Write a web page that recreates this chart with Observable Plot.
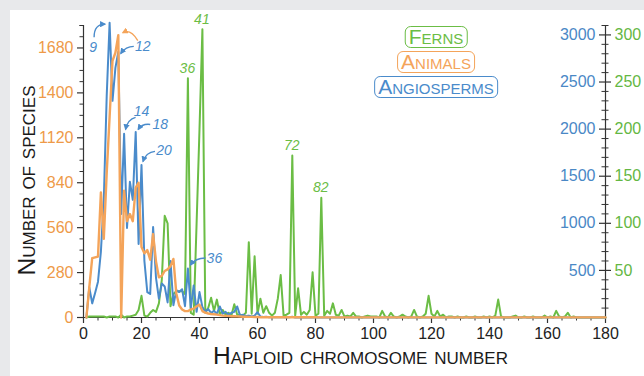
<!DOCTYPE html>
<html>
<head>
<meta charset="utf-8">
<script src="https://cdn.jsdelivr.net/npm/d3@7"></script>
<script src="https://cdn.jsdelivr.net/npm/@observablehq/plot@0.6"></script>
<style>
  html, body { margin: 0; padding: 0; background: #e8e9eb; width: 644px; height: 376px; overflow: hidden; }
  body { font-family: "Liberation Sans", Arial, sans-serif; }
  #wrap { position: relative; width: 644px; height: 376px; }
  #panel { position: absolute; left: 10px; top: 10px; right: 0; bottom: 0; background: #ffffff; }
  #chart { position: absolute; left: 0; top: 0; }
  .key { position: absolute; transform: translateX(-50%); font-size: 21px; font-variant: small-caps;
         line-height: 17px; padding: 1px 3px 2px 3px; border: 1.5px solid; border-radius: 6px; white-space: nowrap; background: #fff; }
</style>
</head>
<body>
<div id="wrap">
  <div id="panel"></div>
  <div id="chart"></div>
</div>
<script>
// ---- data ----
const haploidNumbers = d3.range(1, 181);

const angiosperms = [
  0, 320, 150, 260, 380, 700, 1250, 2350, 3130, 2300,
  2650, 2820, 1100, 1950, 950, 1440, 1250, 1970, 780, 1620,
  600, 270, 250, 960, 420, 200, 360, 330, 160, 600,
  130, 290, 270, 300, 120, 520, 100, 340, 60, 270,
  110, 60, 90, 50, 70, 40, 117, 40, 60, 30,
  50, 60, 117, 20, 30, 15, 20, 10, 20, 56,
  10, 5, 8, 3, 5, 2, 4, 2, 3, 1,
  2, 8, 1, 2, 1, 1, 2, 1, 1, 3,
  1, 0, 1, 0, 1, 0, 0, 1, 0, 0,
  0, 0, 1, 0, 0, 0, 0, 0, 0, 1,
  0, 0, 0, 0, 0, 0, 0, 0, 0, 0,
  0, 0, 0, 0, 0, 0, 0, 0, 0, 0,
  0, 0, 0, 0, 0, 0, 0, 0, 0, 0,
  0, 0, 0, 0, 0, 0, 0, 0, 0, 0,
  0, 0, 0, 0, 0, 0, 0, 0, 0, 0,
  0, 0, 0, 0, 0, 0, 0, 0, 0, 0,
  0, 0, 0, 0, 0, 0, 0, 0, 0, 0,
  0, 0, 0, 0, 0, 0, 0, 0, 0, 0
];

const animals = [
  0, 190, 370, 375, 380, 780, 490, 900, 1250, 1600,
  1650, 1760, 0, 790, 600, 645, 600, 810, 840, 440,
  400, 420, 360, 520, 350, 250, 260, 290, 300, 320,
  365, 150, 75, 50, 40, 40, 50, 55, 70, 80,
  40, 30, 25, 22, 20, 18, 15, 12, 10, 10,
  8, 8, 7, 6, 5, 5, 4, 4, 3, 3,
  2, 2, 2, 2, 2, 2, 2, 2, 2, 2,
  2, 2, 2, 2, 2, 2, 2, 2, 2, 2,
  1, 1, 1, 1, 1, 1, 1, 1, 1, 1,
  1, 1, 1, 1, 1, 1, 1, 1, 1, 1,
  1, 1, 1, 1, 1, 1, 1, 1, 1, 1,
  1, 1, 1, 1, 1, 1, 1, 1, 1, 1,
  1, 1, 1, 1, 1, 1, 1, 1, 1, 1,
  1, 1, 1, 1, 1, 1, 1, 1, 1, 1,
  1, 1, 1, 1, 1, 1, 1, 1, 1, 1,
  1, 1, 1, 1, 1, 1, 1, 1, 1, 1,
  1, 1, 1, 1, 1, 1, 1, 1, 1, 1,
  1, 1, 1, 1, 1, 1, 1, 1, 1, 1
];

const ferns = [
  0, 1, 1, 1, 1, 1, 1, 0, 1, 1,
  1, 0, 3, 0, 1, 1, 2, 3, 8, 23,
  2, 1, 5, 8, 6, 15, 40, 108, 100, 12,
  25, 28, 28, 28, 25, 254, 5, 3, 100, 200,
  306, 5, 10, 21, 7, 19, 3, 8, 3, 5,
  2, 14, 3, 3, 2, 5, 80, 4, 65, 4,
  20, 5, 12, 5, 2, 5, 20, 45, 2, 3,
  5, 172, 2, 31, 3, 6, 3, 8, 48, 2,
  4, 127, 2, 7, 4, 15, 3, 2, 8, 1,
  2, 1, 5, 1, 1, 0, 1, 2, 1, 1,
  1, 0, 7, 1, 0, 5, 1, 0, 1, 3,
  1, 0, 1, 8, 1, 0, 1, 4, 23, 4,
  1, 7, 1, 3, 0, 1, 1, 0, 1, 0,
  0, 1, 0, 0, 1, 0, 0, 1, 0, 1,
  0, 2, 19, 1, 0, 0, 0, 1, 2, 0,
  0, 1, 0, 0, 1, 0, 0, 0, 2, 0,
  1, 0, 7, 1, 0, 1, 5, 0, 1, 0,
  0, 0, 0, 0, 0, 0, 0, 0, 0, 0
];

const seriesNames = ["Ferns", "Animals", "Angiosperms"];
const xTickLabels = [0, 20, 40, 60, 80, 100, 120, 140, 160, 180];
const animalTicks = [0, 280, 560, 840, 1120, 1400, 1680];
const angiospermTicks = [500, 1000, 1500, 2000, 2500, 3000];
const fernTicks = [50, 100, 150, 200, 250, 300];

// annotated peaks
const angiospermNotes = [9, 12, 14, 18, 20, 36];
const animalNotes = [12];
const fernNotes = [36, 41, 72, 82];

// ---- styling / layout ----
const C = { ferns: "#6bbd45", animals: "#f4a45a", angio: "#4a8bcb", axis: "#333333",
            animalsText: "#ee9a48", angioText: "#4a88c6", fernsText: "#64b743" };
const leftMax = 1820;     // animals axis top
const angioMax = 3100;    // angiosperm axis top
const kAngio = leftMax / angioMax;
const kFern = kAngio * 10;

const rows = (arr, k) => haploidNumbers.map((n, i) => ({ n, v: arr[i], y: arr[i] * k }));
const fernRows = rows(ferns, kFern);
const angioRows = rows(angiosperms, kAngio);
const animalRows = rows(animals, 1);

const xMinor = d3.range(0, 181, 5).filter(d => d % 20 !== 0);
const leftMinor = d3.range(0, leftMax + 1, 70).filter(d => d % 280 !== 0);
const rightMinor = d3.range(0, angioMax + 1, 100).filter(d => d % 500 !== 0);

// offsets for annotation labels / arrows (pixels, relative to peak)
const angioNoteLayout = {
  9:  { lx: -16, ly: 25, s: [-15, 15], c: [-15, 2], e: [-4, 2] },
  12: { lx: 25, ly: -5, s: [16, -5], c: [8, -5], e: [3, 2] },
  14: { lx: 18, ly: -22, s: [12, -16], c: [4, -14], e: [2, -4] },
  18: { lx: 25, ly: -7, s: [15, -7], c: [7, -8], e: [3, -2] },
  20: { lx: 23, ly: -14, s: [14, -13], c: [5, -12], e: [2, -3] },
  36: { lx: 27, ly: -10, s: [18, -10], c: [8, -10], e: [3, -3] }
};
const animalNoteLayout = { 12: { s: [20, 6], c: [13, -6], e: [5, -2] } };

function annotations(index, scales) {
  const x = scales.x, y = scales.y;
  const g = d3.create("svg:g");
  const defs = g.append("defs");
  [["ahBlue", C.angio], ["ahOrange", C.animals]].forEach(([id, col]) => {
    defs.append("marker").attr("id", id).attr("viewBox", "0 0 10 10")
      .attr("refX", 8).attr("refY", 5).attr("markerWidth", 4.5).attr("markerHeight", 4.5)
      .attr("orient", "auto")
      .append("path").attr("d", "M0,0L10,5L0,10z").attr("fill", col);
  });
  const drawArrow = (px, py, L, col, mid) => {
    g.append("path")
      .attr("d", `M${px + L.s[0]},${py + L.s[1]}Q${px + L.c[0]},${py + L.c[1]} ${px + L.e[0]},${py + L.e[1]}`)
      .attr("fill", "none").attr("stroke", col).attr("stroke-width", 1.4)
      .attr("marker-end", `url(#${mid})`);
  };
  angiospermNotes.forEach(n => {
    const L = angioNoteLayout[n];
    const px = x(n), py = y(angiosperms[n - 1] * kAngio);
    drawArrow(px, py, L, C.angio, "ahBlue");
    g.append("text").attr("x", px + L.lx).attr("y", py + L.ly).attr("dy", "0.35em")
      .attr("text-anchor", "middle").attr("font-style", "italic").attr("font-size", 14)
      .attr("fill", C.angio).text(String(n));
  });
  animalNotes.forEach(n => {
    const L = animalNoteLayout[n];
    const px = x(n), py = y(animals[n - 1]);
    drawArrow(px, py, L, C.animals, "ahOrange");
  });
  fernNotes.forEach(n => {
    const px = x(n), py = y(ferns[n - 1] * kFern);
    g.append("text").attr("x", px).attr("y", py - 10).attr("dy", "0.35em")
      .attr("text-anchor", "middle").attr("font-style", "italic").attr("font-size", 14)
      .attr("fill", C.ferns).text(String(n));
  });
  return g.node();
}

const font = "Liberation Sans, Arial, sans-serif";

const chart = Plot.plot({
  width: 644,
  height: 376,
  marginLeft: 83,
  marginRight: 39,
  marginTop: 25,
  marginBottom: 59,
  style: { background: "transparent", fontFamily: font, overflow: "visible" },
  x: { domain: [0, 180], axis: null },
  y: { domain: [0, leftMax], axis: null },
  marks: [
    // axis lines
    Plot.ruleX([0, 180], { y1: 0, y2: leftMax, stroke: C.axis, strokeWidth: 1.2 }),
    Plot.ruleY([0], { stroke: C.axis, strokeWidth: 1.2 }),
    // x ticks
    Plot.tickX(xTickLabels, { x: d => d, insetTop: 292, insetBottom: -6, stroke: C.axis, strokeWidth: 1.2 }),
    Plot.tickX(xMinor, { x: d => d, insetTop: 292, insetBottom: -3.5, stroke: C.axis, strokeWidth: 1 }),
    // left ticks
    Plot.tickY(animalTicks, { y: d => d, insetLeft: -6, insetRight: 522, stroke: C.axis, strokeWidth: 1.2 }),
    Plot.tickY(leftMinor, { y: d => d, insetLeft: -3.5, insetRight: 522, stroke: C.axis, strokeWidth: 1 }),
    Plot.tickY([leftMax], { y: d => d, insetLeft: -3.5, insetRight: 522, stroke: C.axis, strokeWidth: 1 }),
    // right ticks (crossing)
    Plot.tickY(angiospermTicks, { y: d => d * kAngio, insetLeft: 516, insetRight: -6, stroke: C.axis, strokeWidth: 1.2 }),
    Plot.tickY(rightMinor, { y: d => d * kAngio, insetLeft: 518.5, insetRight: -3.5, stroke: C.axis, strokeWidth: 1 }),
    // tick labels
    Plot.text(xTickLabels, { x: d => d, frameAnchor: "bottom", dy: 21, text: d => String(d), fill: "#222", fontSize: 16 }),
    Plot.text(animalTicks, { y: d => d, frameAnchor: "left", dx: -10, textAnchor: "end", text: d => String(d), fill: C.animalsText, fontSize: 16 }),
    Plot.text(angiospermTicks, { y: d => d * kAngio, frameAnchor: "right", dx: -10, textAnchor: "end", text: d => String(d), fill: C.angioText, fontSize: 16 }),
    Plot.text(fernTicks, { y: d => d * kAngio * 10, frameAnchor: "right", dx: 9, textAnchor: "start", text: d => String(d), fill: C.fernsText, fontSize: 16 }),
    // axis titles
    Plot.text(["Number of species"], { frameAnchor: "left", dx: -56, dy: 9, rotate: -90, textAnchor: "middle", text: d => d, fill: "#1a1a1a", fontSize: 24.5, fontVariant: "small-caps" }),
    Plot.text(["Haploid chromosome number"], { frameAnchor: "bottom", dx: 16, dy: 46, textAnchor: "middle", text: d => d, fill: "#1a1a1a", fontSize: 24.5, fontVariant: "small-caps" }),
    // series
    Plot.line(fernRows, { x: "n", y: "y", stroke: C.ferns, strokeWidth: 2, strokeLinejoin: "round" }),
    Plot.line(angioRows, { x: "n", y: "y", stroke: C.angio, strokeWidth: 2, strokeLinejoin: "round" }),
    Plot.line(animalRows, { x: "n", y: "y", stroke: C.animals, strokeWidth: 2.4, strokeLinejoin: "round" }),
    annotations
  ]
});
document.getElementById("chart").appendChild(chart);

// legend
const keyColors = { Ferns: C.ferns, Animals: C.animals, Angiosperms: C.angio };
const keyTops = { Ferns: 26, Animals: 51, Angiosperms: 76 };
const wrap = document.getElementById("wrap");
seriesNames.forEach(name => {
  const d = document.createElement("div");
  d.className = "key";
  d.textContent = name;
  d.style.color = keyColors[name];
  d.style.borderColor = keyColors[name];
  d.style.left = "436px";
  d.style.top = keyTops[name] + "px";
  wrap.appendChild(d);
});
</script>
</body>
</html>
